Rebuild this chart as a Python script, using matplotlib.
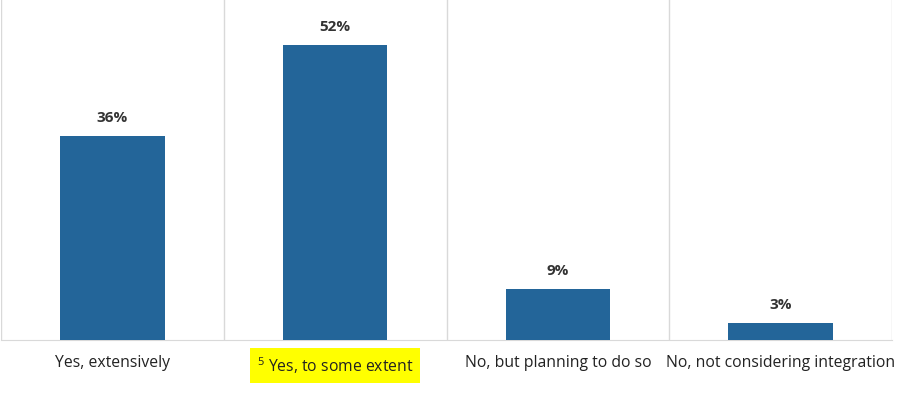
import numpy as np
from matplotlib import pyplot as plt

categories = ["Yes, extensively", r"$^{5}$ Yes, to some extent",
              "No, but planning to do so", "No, not considering integration"]
values = [36, 52, 9, 3]

plt.rcParams['font.family'] = ['Open Sans', 'DejaVu Sans']
plt.rcParams['mathtext.fontset'] = 'custom'
plt.rcParams['mathtext.rm'] = 'Open Sans'
plt.rcParams['mathtext.it'] = 'Open Sans'
plt.rcParams['mathtext.default'] = 'regular'

fig = plt.figure(figsize=(8.98, 3.95), dpi=100)
ax = fig.add_axes([1 / 898, 55 / 395, 891 / 898, 340 / 395])

x = np.arange(len(categories))
ax.bar(x, values, width=0.47, color="#236599", zorder=3)

for xi, v in zip(x, values):
    ax.text(xi, v + 2.0, f"{v}%", ha="center", va="bottom",
            fontsize=11, fontweight="bold", color="#333333")

ax.set_xlim(-0.5, len(categories) - 0.5)
ax.set_ylim(0, 60)
ax.set_yticks([])
ax.set_xticks(x)
ax.set_xticklabels(categories, fontsize=11.3, color="#222222")
ax.tick_params(axis="x", length=0, pad=11)

# vertical separators between categories
for b in np.arange(-0.5, len(categories), 1.0):
    ax.axvline(b, color="#d9d9d9", lw=1, zorder=1)

for s in ["top", "left", "right"]:
    ax.spines[s].set_visible(False)
ax.spines["bottom"].set_color("#d9d9d9")

lbl = ax.get_xticklabels()[1]
lbl.set_bbox(dict(facecolor="#ffff00", edgecolor="none", pad=5))

fig.savefig("out.png", dpi=100)
